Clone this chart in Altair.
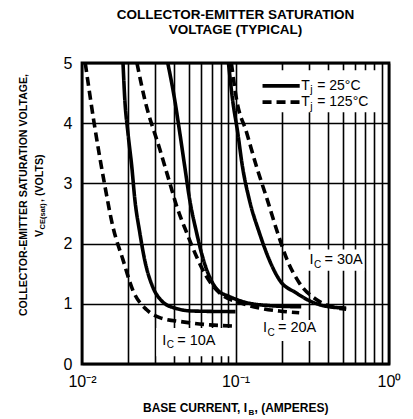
import altair as alt
import pandas as pd

# ---- curve data (base current in A, V_CE(sat) in V) ----
I_10A_25 = [0.0185, 0.0190, 0.0199, 0.0211, 0.0221, 0.0238, 0.0256, 0.0289, 0.0330, 0.0401, 0.0526, 0.1]
V_10A_25 = [5.0, 4.4, 3.85, 3.28, 2.73, 2.18, 1.73, 1.28, 1.05, 0.93, 0.88, 0.87]
I_10A_125 = [0.0105, 0.0120, 0.0140, 0.0159, 0.0185, 0.0214, 0.0264, 0.0321, 0.0453, 0.0678, 0.1]
V_10A_125 = [5.0, 4.0, 3.0, 2.28, 1.73, 1.23, 0.90, 0.77, 0.70, 0.65, 0.63]
I_20A_25 = [0.0362, 0.0401, 0.0433, 0.0467, 0.0503, 0.0558, 0.0610, 0.0677, 0.0764, 0.0914, 0.114, 0.166, 0.268]
V_20A_25 = [5.0, 4.4, 3.85, 3.28, 2.73, 2.18, 1.78, 1.45, 1.23, 1.12, 1.03, 0.97, 0.95]
I_20A_125 = [0.0228, 0.0256, 0.0321, 0.0372, 0.0414, 0.0481, 0.0558, 0.0648, 0.0787, 0.1062, 0.1432, 0.193, 0.26]
V_20A_125 = [5.0, 4.4, 3.57, 3.02, 2.62, 2.18, 1.78, 1.45, 1.18, 1.02, 0.93, 0.88, 0.85]
I_30A_25 = [0.090, 0.0956, 0.1033, 0.111, 0.123, 0.143, 0.166, 0.193, 0.249, 0.316, 0.408, 0.526]
V_30A_25 = [5.0, 4.4, 3.85, 3.28, 2.73, 2.18, 1.73, 1.40, 1.18, 1.03, 0.95, 0.93]
I_30A_125 = [0.094, 0.1015, 0.118, 0.137, 0.161, 0.188, 0.217, 0.26, 0.336, 0.425, 0.526]
V_30A_125 = [5.0, 4.4, 3.85, 3.28, 2.73, 2.18, 1.73, 1.35, 1.07, 0.95, 0.91]

# axis ticks / grid
x_grid = [0.01, 0.02, 0.03, 0.04, 0.05, 0.06, 0.07, 0.08, 0.09,
          0.1, 0.2, 0.3, 0.4, 0.5, 0.6, 0.7, 0.8, 0.9, 1.0]
y_grid = [0, 0.5, 1, 1.5, 2, 2.5, 3, 3.5, 4, 4.5, 5]

# curve labels (I_C = ...)
lab_text = ["= 10A", "= 20A", "= 30A"]
lab_I = [0.0333, 0.151, 0.303]
lab_V = [0.39, 0.59, 1.72]
box_I1 = [0.0305, 0.139, 0.285]
box_I2 = [0.094, 0.35, 0.69]
box_V1 = [0.13, 0.38, 1.55]
box_V2 = [0.60, 0.73, 1.90]

# legend
leg_text = ["= 25°C", "= 125°C"]
leg_temp = ["25", "125"]
leg_V = [4.62, 4.35]
leg_I1 = [0.150, 0.150]
leg_I2 = [0.262, 0.262]
leg_Itext = [0.268, 0.268]
leg_box_I = [0.139, 0.84]
leg_box_V = [4.18, 4.88]

FONT = "Liberation Sans"

rows = []
for ic, temp, Is, Vs in [
    ("10A", "25", I_10A_25, V_10A_25), ("10A", "125", I_10A_125, V_10A_125),
    ("20A", "25", I_20A_25, V_20A_25), ("20A", "125", I_20A_125, V_20A_125),
    ("30A", "25", I_30A_25, V_30A_25), ("30A", "125", I_30A_125, V_30A_125),
]:
    for k, (i, v) in enumerate(zip(Is, Vs)):
        rows.append({"I": i, "V": v, "series": ic + "_" + temp, "temp": temp, "order": k})
df = pd.DataFrame(rows)

xs = alt.Scale(type="log", domain=[0.01, 1])
ys = alt.Scale(domain=[0, 5])
dash = alt.Scale(domain=["25", "125"], range=[[1, 0], [9, 5]])

x_label = ("datum.value == 0.01 ? '10⁻²' : datum.value == 0.1 ? '10⁻¹' : "
           "datum.value == 1 ? '10⁰' : ''")

base_x = alt.X("I:Q", scale=xs, axis=alt.Axis(
    values=x_grid, labelExpr=x_label, grid=True, gridColor="black", gridWidth=1.6,
    gridOpacity=1, ticks=False, domain=False, labelFontSize=16, labelFont=FONT,
    labelColor="black", labelPadding=9, labelFlush=False, labelOverlap=False,
    title=None))
base_y = alt.Y("V:Q", scale=ys, axis=alt.Axis(
    values=y_grid, labelExpr="datum.value % 1 == 0 ? datum.value : ''", grid=True,
    gridColor="black", gridWidth=1.6, gridOpacity=1, ticks=False, domain=False,
    labelFontSize=16, labelFont=FONT, labelColor="black", labelPadding=10,
    labelOverlap=False, title=None))

curves = alt.Chart(df).mark_line(color="black", strokeWidth=3.6, clip=True,
                                 interpolate="monotone").encode(
    x=base_x, y=base_y, detail="series:N", order="order:Q",
    strokeDash=alt.StrokeDash("temp:N", scale=dash, legend=None))

lab_df = pd.DataFrame({"text": lab_text, "I": lab_I, "V": lab_V,
                       "I1": box_I1, "I2": box_I2, "V1": box_V1, "V2": box_V2})
boxes = alt.Chart(lab_df).mark_rect(color="white").encode(
    x=alt.X("I1:Q", scale=xs), x2="I2:Q", y=alt.Y("V1:Q", scale=ys), y2="V2:Q")
lab_I_mark = alt.Chart(lab_df).mark_text(text="I", align="left", baseline="middle",
                                         font=FONT, fontSize=14.5, color="black").encode(
    x=alt.X("I:Q", scale=xs), y=alt.Y("V:Q", scale=ys))
lab_C_mark = alt.Chart(lab_df).mark_text(text="C", align="left", baseline="middle",
                                         font=FONT, fontSize=10, color="black",
                                         dx=4.5, dy=4.5).encode(
    x=alt.X("I:Q", scale=xs), y=alt.Y("V:Q", scale=ys))
lab_rest = alt.Chart(lab_df).mark_text(align="left", baseline="middle", font=FONT,
                                       fontSize=14.5, color="black", dx=15).encode(
    x=alt.X("I:Q", scale=xs), y=alt.Y("V:Q", scale=ys), text="text:N")

legbox_df = pd.DataFrame({"I1": [leg_box_I[0]], "I2": [leg_box_I[1]],
                          "V1": [leg_box_V[0]], "V2": [leg_box_V[1]]})
leg_box = alt.Chart(legbox_df).mark_rect(color="white").encode(
    x=alt.X("I1:Q", scale=xs), x2="I2:Q", y=alt.Y("V1:Q", scale=ys), y2="V2:Q")
leg_df = pd.DataFrame({"text": leg_text, "temp": leg_temp, "V": leg_V, "I1": leg_I1,
                       "I2": leg_I2, "It": leg_Itext})
leg_lines = alt.Chart(leg_df).mark_rule(color="black", strokeWidth=3.6).encode(
    x=alt.X("I1:Q", scale=xs), x2="I2:Q", y=alt.Y("V:Q", scale=ys),
    strokeDash=alt.StrokeDash("temp:N", scale=dash, legend=None))
leg_T = alt.Chart(leg_df).mark_text(text="T", align="left", baseline="middle", font=FONT,
                                    fontSize=14, color="black").encode(
    x=alt.X("It:Q", scale=xs), y=alt.Y("V:Q", scale=ys))
leg_j = alt.Chart(leg_df).mark_text(text="j", align="left", baseline="middle", font=FONT,
                                    fontSize=10.5, color="black", dx=9, dy=4.5).encode(
    x=alt.X("It:Q", scale=xs), y=alt.Y("V:Q", scale=ys))
leg_rest = alt.Chart(leg_df).mark_text(align="left", baseline="middle", font=FONT,
                                       fontSize=14, color="black", dx=16).encode(
    x=alt.X("It:Q", scale=xs), y=alt.Y("V:Q", scale=ys), text="text:N")

# axis titles as text (with subscripts)
one = pd.DataFrame({"k": [0]})
yt1 = alt.Chart(one).mark_text(
    text="COLLECTOR-EMITTER SATURATION VOLTAGE,", angle=270, align="center",
    baseline="middle", font=FONT, fontSize=10.6, fontWeight="bold", color="black").encode(
    x=alt.value(-58), y=alt.value(132))
yt2a = alt.Chart(one).mark_text(
    text="V", angle=270, align="left", baseline="middle", font=FONT, fontSize=10.6,
    fontWeight="bold", color="black").encode(x=alt.value(-42), y=alt.value(174))
yt2b = alt.Chart(one).mark_text(
    text="CE(sat)", angle=270, align="left", baseline="middle", font=FONT, fontSize=7.5,
    fontWeight="bold", color="black", dx=7.5, dy=3).encode(x=alt.value(-42), y=alt.value(174))
yt2c = alt.Chart(one).mark_text(
    text=", (VOLTS)", angle=270, align="left", baseline="middle", font=FONT, fontSize=10.6,
    fontWeight="bold", color="black", dx=35).encode(x=alt.value(-42), y=alt.value(174))

xt1 = alt.Chart(one).mark_text(
    text="BASE CURRENT, I", align="left", baseline="alphabetic", font=FONT, fontSize=12,
    fontWeight="bold", color="black").encode(x=alt.value(61), y=alt.value(349))
xt2 = alt.Chart(one).mark_text(
    text="B", align="left", baseline="alphabetic", font=FONT, fontSize=8,
    fontWeight="bold", color="black", dx=105.5, dy=3).encode(x=alt.value(61), y=alt.value(349))
xt3 = alt.Chart(one).mark_text(
    text=", (AMPERES)", align="left", baseline="alphabetic", font=FONT, fontSize=12,
    fontWeight="bold", color="black", dx=111.5).encode(x=alt.value(61), y=alt.value(349))

chart = alt.layer(
    curves, boxes, lab_I_mark, lab_C_mark, lab_rest,
    leg_box, leg_lines, leg_T, leg_j, leg_rest,
    yt1, yt2a, yt2b, yt2c, xt1, xt2, xt3,
).properties(
    width=307, height=301,
    autosize=alt.AutoSizeParams(type="none"),
    padding={"left": 74, "top": 55, "right": 16, "bottom": 55},
    title=alt.TitleParams(["COLLECTOR-EMITTER SATURATION", "VOLTAGE (TYPICAL)"],
                          font=FONT, fontSize=13.5, fontWeight="bold", color="black",
                          anchor="middle", offset=19, lineHeight=14.5),
).configure_view(stroke="black", strokeWidth=2.8)

chart.save("out.html", embed_options={"renderer": "svg", "actions": False})
